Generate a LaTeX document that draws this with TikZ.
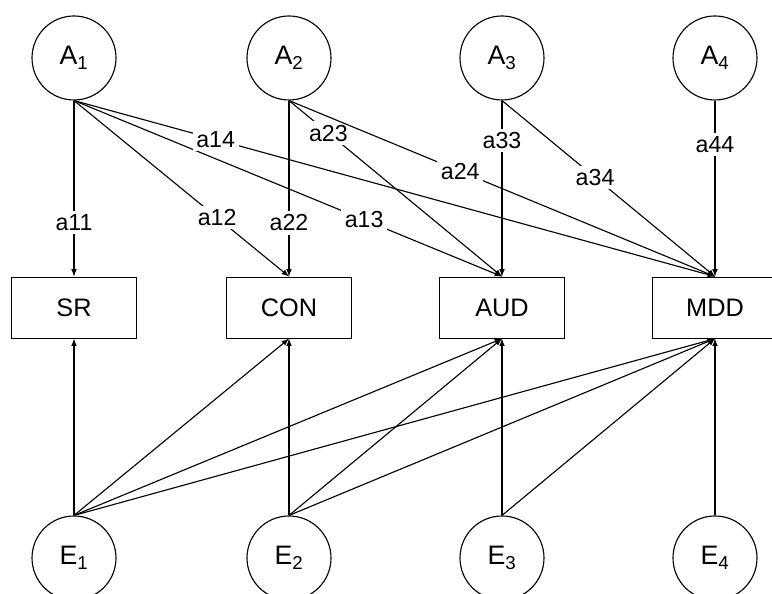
\documentclass[tikz,border=0pt]{standalone}
\usepackage{fontspec}
\setmainfont{Liberation Sans}
\usepackage{tikz}
\usetikzlibrary{arrows, positioning}
\tikzstyle{every picture}=[line width=0.8pt, >=latex]
\tikzstyle{latent}=[circle,draw,minimum size=2.1cm,inner sep=0pt,font=\fontsize{19}{21}\selectfont]
\tikzstyle{observed}=[rectangle,draw,minimum width=3.125cm,minimum height=1.525cm,font=\fontsize{18}{20}\selectfont]
\tikzstyle{path label}=[fill=white,inner sep=2.5pt,font=\fontsize{16.5}{18}\selectfont]

\begin{document}
\begin{tikzpicture}
		\clip (0,0) rectangle (19.3,14.85);
		\useasboundingbox (0,0) rectangle (19.3,14.85);
		\node[latent] (A-1) at (1.85,13.4) {A\textsubscript{1}};
		\node[latent] (A-2) at (7.225,13.4) {A\textsubscript{2}};
		\node[latent] (A-3) at (12.55,13.4) {A\textsubscript{3}};
		\node[latent] (A-4) at (17.875,13.4) {A\textsubscript{4}};
		\node[observed] (SR) at (1.85,7.16) {SR};
		\node[observed] (CON) at (7.225,7.16) {CON};
		\node[observed] (AUD) at (12.55,7.16) {AUD};
		\node[observed] (MDD) at (17.875,7.16) {MDD};
		\node[latent] (E-1) at (1.85,0.9) {E\textsubscript{1}};
		\node[latent] (E-2) at (7.225,0.9) {E\textsubscript{2}};
		\node[latent] (E-3) at (12.55,0.9) {E\textsubscript{3}};
		\node[latent] (E-4) at (17.875,0.9) {E\textsubscript{4}};
		% additive genetic paths
		\path
		(A-1.south) edge[->] node[path label, pos=0.695] {a11} (SR.north)
		(A-1.south) edge[->] node[path label, pos=0.666] {a12} (CON.north)
		(A-1.south) edge[->] node[path label, pos=0.678] {a13} (AUD.north)
		(A-1.south) edge[->] node[path label, pos=0.221] {a14} (MDD.north)
		(A-2.south) edge[->] node[path label, pos=0.695] {a22} (CON.north)
		(A-2.south) edge[->] node[path label, pos=0.185] {a23} (AUD.north)
		(A-2.south) edge[->] node[path label, pos=0.402] {a24} (MDD.north)
		(A-3.south) edge[->] node[path label, pos=0.226] {a33} (AUD.north)
		(A-3.south) edge[->] node[path label, pos=0.437] {a34} (MDD.north)
		(A-4.south) edge[->] node[path label, pos=0.249] {a44} (MDD.north);
		% environmental paths
		\path
		(E-1.north) edge[->] (SR.south)
		(E-1.north) edge[->] (CON.south)
		(E-1.north) edge[->] (AUD.south)
		(E-1.north) edge[->] (MDD.south)
		(E-2.north) edge[->] (CON.south)
		(E-2.north) edge[->] (AUD.south)
		(E-2.north) edge[->] (MDD.south)
		(E-3.north) edge[->] (AUD.south)
		(E-3.north) edge[->] (MDD.south)
		(E-4.north) edge[->] (MDD.south);
	\end{tikzpicture}
\end{document}
